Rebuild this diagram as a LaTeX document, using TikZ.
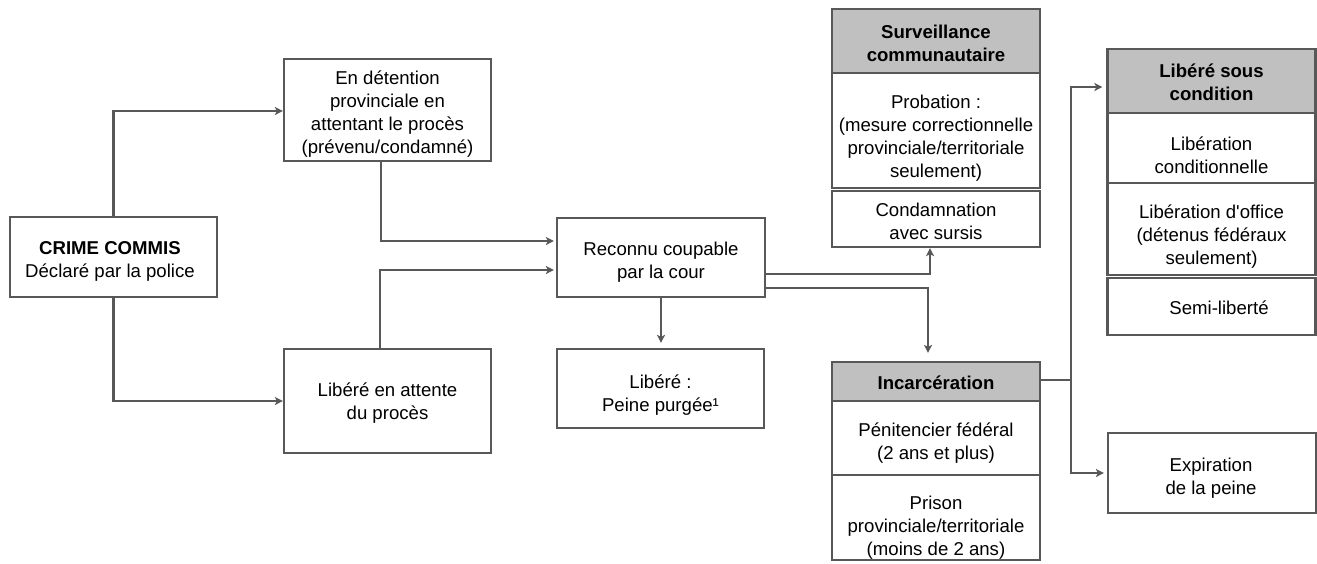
\documentclass[tikz,border=0pt]{standalone}
\usepackage{fontspec}
\setmainfont{Liberation Sans}[Ligatures=TeXOff]
\usetikzlibrary{arrows.meta,calc}
\definecolor{ln}{RGB}{88,88,88}
\definecolor{hd}{RGB}{192,192,192}
\begin{document}
\begin{tikzpicture}[x=1pt,y=-1pt,
 box/.style={draw=ln,line width=2.2pt,fill=white,inner sep=0pt},
 hdr/.style={box,fill=hd},
 txt/.style={inner sep=0pt,align=center,font=\fontsize{18.6}{23}\selectfont},
 htxt/.style={txt,font=\fontsize{18.6}{23}\selectfont\bfseries},
 conn/.style={draw=ln,line width=2.2pt},
 arr/.style={conn,-{Stealth[length=8pt,width=8pt,inset=2pt]}}]
\useasboundingbox (0,0) rectangle (1317,563);
\fill[white] (0,0) rectangle (1317,563);

% left column
\node[box,minimum width=207pt,minimum height=80pt] (crime) at (113.5,257) {};
\node[txt] (crime-t) at (110,261) {\textbf{CRIME COMMIS}\\Déclaré par la police};
\node[box,minimum width=207pt,minimum height=102pt] (det) at (387.5,110) {};
\node[txt] (det-t) at (387.5,114) {En détention\\provinciale en\\attentant le procès\\(prévenu/condamné)};
\node[box,minimum width=207pt,minimum height=104pt] (latt) at (387.5,401) {};
\node[txt] (latt-t) at (387.5,403.5) {Libéré en attente\\du procès};
\node[box,minimum width=208pt,minimum height=79pt] (rec) at (661,257.5) {};
\node[txt] (rec-t) at (661,262.5) {Reconnu coupable\\par la cour};
\node[box,minimum width=207pt,minimum height=79pt] (lpp) at (660.5,388.5) {};
\node[txt] (lpp-t) at (660.5,395.5) {Libéré :\\Peine purgée¹};

% community supervision
\node[hdr,minimum width=208pt,minimum height=64pt] (surv) at (936,41) {};
\node[htxt] (surv-t) at (936,43) {Surveillance\\communautaire};
\node[box,minimum width=208pt,minimum height=115pt] (prob) at (936,130.5) {};
\node[txt] (prob-t) at (936,138) {Probation :\\(mesure correctionnelle\\provinciale/territoriale\\seulement)};
\node[box,minimum width=208pt,minimum height=56pt] (cond) at (936,219) {};
\node[txt] (cond-t) at (936,221) {Condamnation\\avec sursis};

% incarceration
\node[hdr,minimum width=208pt,minimum height=39pt] (inc) at (936,381.5) {};
\node[htxt] (inc-t) at (936,382.5) {Incarcération};
\node[box,minimum width=208pt,minimum height=74pt] (pen) at (936,438) {};
\node[txt] (pen-t) at (936,443.5) {Pénitencier fédéral\\(2 ans et plus)};
\node[box,minimum width=208pt,minimum height=85pt] (pri) at (936,517.5) {};
\node[txt] (pri-t) at (936,527.5) {Prison\\provinciale/territoriale\\(moins de 2 ans)};

% conditional release
\node[hdr,minimum width=208pt,minimum height=64pt] (lsc) at (1211.5,81) {};
\node[htxt] (lsc-t) at (1211.5,82) {Libéré sous\\condition};
\node[box,minimum width=208pt,minimum height=70pt] (lcond) at (1211.5,148) {};
\node[txt] (lcond-t) at (1211.5,155.5) {Libération\\conditionnelle};
\node[box,minimum width=208pt,minimum height=92pt] (loff) at (1211.5,229) {};
\node[txt] (loff-t) at (1211.5,236.5) {Libération d'office\\(détenus fédéraux\\seulement)};
\node[box,minimum width=208pt,minimum height=57pt] (semi) at (1211.5,306.5) {};
\node[txt] (semi-t) at (1219,307.5) {Semi-liberté};
\node[box,minimum width=208pt,minimum height=80pt] (exp) at (1212,473) {};
\node[txt] (exp-t) at (1211,478.5) {Expiration\\de la peine};

% connectors
\draw[arr] (crime.north) |- ([yshift=-1pt]det.west);
\draw[arr] (crime.south) |- (latt.west);
\draw[arr,shorten >=2pt] ([xshift=-6.5pt]det.south) |- ([yshift=16.5pt]rec.west);
\draw[arr,shorten >=2pt] ([xshift=-7.5pt]latt.north) |- ([yshift=-12.5pt]rec.west);
\draw[arr,shorten >=5pt] (rec.south) -- (rec.south |- lpp.north);
\draw[arr] ([yshift=-16.5pt]rec.east) -| ([xshift=-6pt]cond.south);
\draw[arr,shorten >=8pt] ([yshift=-30.5pt]rec.east) -| ([xshift=-8pt]inc.north);
\coordinate (split) at (1071,380);
\draw[conn] (split -| inc.east) -- (split);
\draw[arr,shorten >=4pt] (split) |- ([yshift=-6pt]lsc.west);
\draw[arr,shorten >=3pt] (split) |- (exp.west);
\end{tikzpicture}
\end{document}
